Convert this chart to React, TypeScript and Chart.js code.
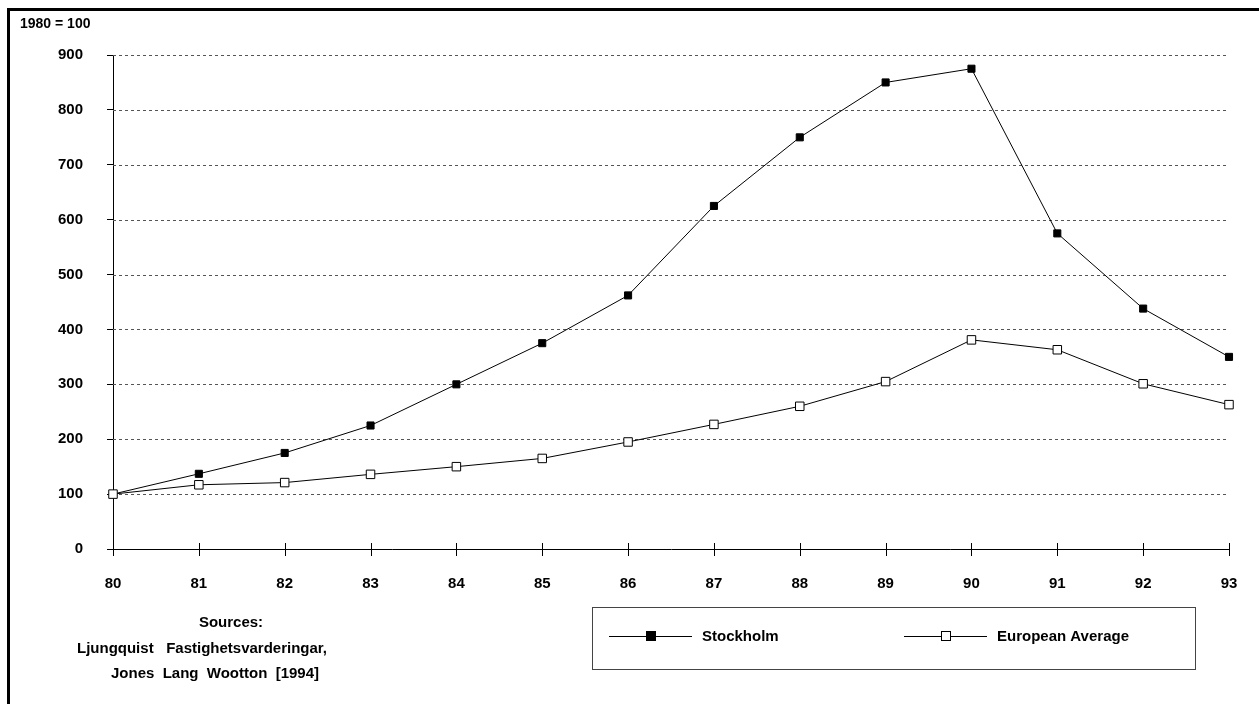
import { Chart, registerables } from "chart.js";
import { useEffect, useRef } from "react";

Chart.register(...registerables);

const years = ["80", "81", "82", "83", "84", "85", "86", "87", "88", "89", "90", "91", "92", "93"];
const stockholm = [100, 137, 175, 225, 300, 375, 462, 625, 750, 850, 875, 575, 438, 350];
const european = [100, 117, 121, 136, 150, 165, 195, 227, 260, 305, 381, 363, 301, 263];
const sources = ["Sources:", "Ljungquist   Fastighetsvarderingar,", "Jones  Lang  Wootton  [1994]"];

const FONT = "'Liberation Sans', Arial, sans-serif";

// dashed horizontal grid lines behind the data
const grid = {
    id: "dashGrid",
    beforeDatasetsDraw(chart: any) {
        const ctx = chart.ctx;
        const y = chart.scales.y;
        const { left, right } = chart.chartArea;
        ctx.save();
        ctx.strokeStyle = "#555";
        ctx.lineWidth = 1;
        ctx.setLineDash([3, 3]);
        y.ticks.forEach((t: any) => {
            if (t.value === 0) return;
            const py = Math.round(y.getPixelForValue(t.value)) + 0.5;
            ctx.beginPath();
            ctx.moveTo(left, py);
            ctx.lineTo(right, py);
            ctx.stroke();
        });
        ctx.restore();
    },
};

const extras = {
    id: "extras",
    afterDraw(chart: any) {
        const ctx = chart.ctx;
        const x = chart.scales.x;
        const y = chart.scales.y;
        const y0 = y.getPixelForValue(0);
        ctx.save();
        ctx.strokeStyle = "#000";
        ctx.lineWidth = 1;
        // ticks crossing the x axis
        years.forEach((_, i) => {
            const px = Math.round(x.getPixelForValue(i)) + 0.5;
            ctx.beginPath();
            ctx.moveTo(px, y0 - 6);
            ctx.lineTo(px, y0 + 7);
            ctx.stroke();
        });
        // header
        ctx.fillStyle = "#000";
        ctx.font = `bold 14px ${FONT}`;
        ctx.textAlign = "left";
        ctx.textBaseline = "middle";
        ctx.fillText("1980 = 100", 20, 24);
        // sources
        ctx.font = `bold 15px ${FONT}`;
        ctx.textAlign = "center";
        ctx.fillText(sources[0], 231, 623);
        ctx.fillText(sources[1], 202, 649);
        ctx.fillText(sources[2], 215, 674);
        // legend box
        ctx.strokeStyle = "#444";
        ctx.strokeRect(592.5, 607.5, 603, 62);
        ctx.strokeStyle = "#000";
        const items = [
            { label: "Stockholm", fill: "#000", x: 609 },
            { label: "European Average", fill: "#fff", x: 904 },
        ];
        ctx.textAlign = "left";
        items.forEach(it => {
            ctx.beginPath();
            ctx.moveTo(it.x, 636.5);
            ctx.lineTo(it.x + 83, 636.5);
            ctx.stroke();
            ctx.fillStyle = it.fill;
            ctx.fillRect(it.x + 37, 631, 10, 10);
            ctx.strokeRect(it.x + 37.5, 631.5, 9, 9);
            ctx.fillStyle = "#000";
            ctx.fillText(it.label, it.x + 93, 637);
        });
        ctx.restore();
    },
};

export default function App() {
    const canvasRef = useRef<HTMLCanvasElement>(null);

    useEffect(() => {
        const chart = new Chart(canvasRef.current!, {
            type: "line",
            data: {
                labels: years,
                datasets: [
                    {
                        label: "Stockholm",
                        data: stockholm,
                        order: 1,
                        borderColor: "#000",
                        borderWidth: 1,
                        pointStyle: "rect",
                        pointRadius: 5,
                        pointBackgroundColor: "#000",
                        pointBorderColor: "#000",
                        tension: 0,
                    },
                    {
                        label: "European Average",
                        data: european,
                        order: 0,
                        borderColor: "#000",
                        borderWidth: 1,
                        pointStyle: "rect",
                        pointRadius: 6,
                        pointBackgroundColor: "#fff",
                        pointBorderColor: "#000",
                        pointBorderWidth: 1,
                        tension: 0,
                    },
                ],
            },
            options: {
                animation: false,
                responsive: false,
                layout: { padding: { top: 55, right: 30, left: 0, bottom: 0 } },
                plugins: { legend: { display: false }, tooltip: { enabled: false } },
                scales: {
                    x: {
                        afterFit: (s: any) => { s.height = 155; },
                        grid: { display: false },
                        border: { color: "#000", width: 1 },
                        ticks: { color: "#000", padding: 18, font: { family: FONT, size: 15, weight: "bold" }, maxRotation: 0 },
                    },
                    y: {
                        min: 0,
                        max: 900,
                        afterFit: (s: any) => { s.width = 113; },
                        border: { color: "#000", width: 1 },
                        grid: { drawOnChartArea: false, tickColor: "#000", tickLength: 6 },
                        ticks: { stepSize: 100, color: "#000", padding: 24, font: { family: FONT, size: 15, weight: "bold" } },
                    },
                },
            },
            plugins: [grid, extras],
        } as any);
        return () => chart.destroy();
    }, []);

    return (
        <div style={{ position: "absolute", left: 0, top: 0, width: 1259, height: 704, background: "#fff" }}>
            <div style={{ position: "absolute", left: 7, top: 8, width: 1252, height: 696, borderLeft: "3px solid #000", borderTop: "3px solid #000", boxSizing: "border-box" }} />
            <canvas ref={canvasRef} width={1259} height={704} style={{ position: "absolute", left: 0, top: 0 }} />
        </div>
    );
}
